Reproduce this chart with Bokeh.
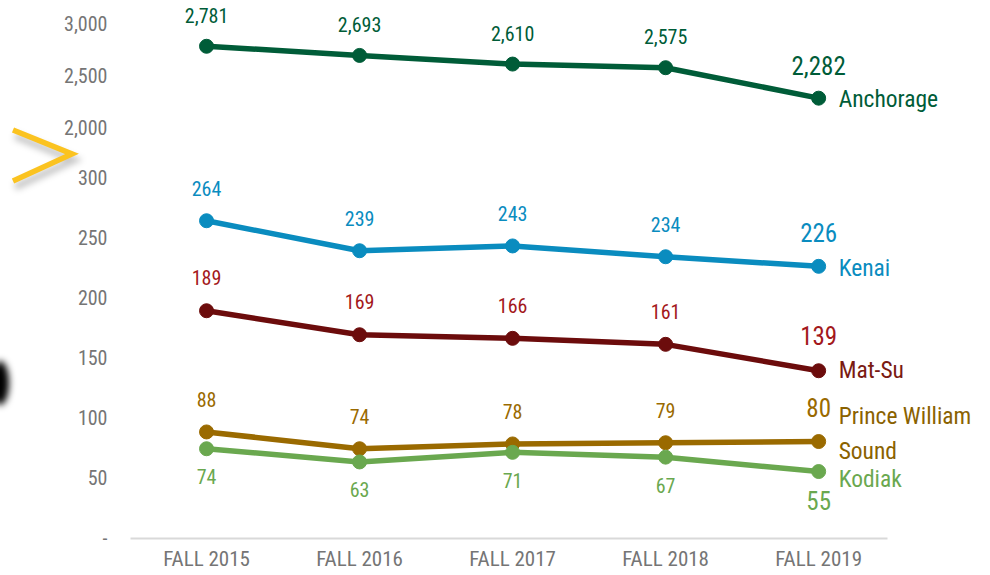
from bokeh.plotting import figure
from bokeh.models import Range1d, FixedTicker, NumeralTickFormatter, ColumnDataSource, Div
from bokeh.layouts import column
from bokeh.embed import file_html
from bokeh.resources import INLINE
from bokeh.core.properties import value

# ---------------- data ----------------
terms = ["FALL 2015", "FALL 2016", "FALL 2017", "FALL 2018", "FALL 2019"]
anchorage = [2781, 2693, 2610, 2575, 2282]
kenai = [264, 239, 243, 234, 226]
matsu = [189, 169, 166, 161, 139]
pws = [88, 74, 78, 79, 80]
kodiak = [74, 63, 71, 67, 55]
series_names = ["Anchorage", "Kenai", "Mat-Su", "Prince William\nSound", "Kodiak"]
top_ticks = [2000, 2500, 3000]
bottom_ticks = [0, 50, 100, 150, 200, 250, 300]

# ---------------- styles ----------------
FONT = "Roboto Condensed, Liberation Sans Narrow, DejaVu Sans Condensed, Roboto"
GRAY = "#757575"
styles = {
    "Anchorage": dict(line="#005c38", lab="#005c38", name="#005c38", off=-31, name_off=1),
    "Kenai": dict(line="#0a8cbf", lab="#0a8cbf", name="#0a8cbf", off=-32, name_off=2),
    "Mat-Su": dict(line="#6c0c0c", lab="#a3181c", name="#7a1a12", off=-33, name_off=-1),
    "Prince William\nSound": dict(line="#9a6a00", lab="#9a6a00", name="#8a6200", off=-32, name_off=-8),
    "Kodiak": dict(line="#6aa84f", lab="#6aa84f", name="#6aa84f", off=28, name_off=7),
}

W = 990
TOP_H = 154
BOT_H = 575 - TOP_H
LEFT = 128
RIGHT = 2
x_range = Range1d(-0.51, 5.11)


def base_fig(h, y_range, bottom_border):
    p = figure(width=W, height=h, x_range=x_range, y_range=y_range,
               output_backend="svg", toolbar_location=None,
               min_border_left=LEFT, min_border_right=RIGHT,
               min_border_top=0, min_border_bottom=bottom_border)
    p.outline_line_color = None
    p.xgrid.visible = False
    p.ygrid.visible = False
    p.background_fill_color = None
    p.border_fill_color = None
    ya = p.yaxis[0]
    ya.axis_line_color = None
    ya.major_tick_line_color = None
    ya.minor_tick_line_color = None
    ya.major_tick_out = 0
    ya.major_tick_in = 0
    ya.major_label_standoff = 21
    ya.major_label_text_font = FONT
    ya.major_label_text_font_size = "20px"
    ya.major_label_text_color = GRAY
    ya.formatter = NumeralTickFormatter(format="0,0")
    return p


top = base_fig(TOP_H, Range1d(1740.4, 3221.2), 0)
top.xaxis.visible = False
top.yaxis[0].ticker = FixedTicker(ticks=top_ticks)

bot = base_fig(BOT_H, Range1d(-0.8, 319.2), 37)
bot.yaxis[0].ticker = FixedTicker(ticks=bottom_ticks)
bot.yaxis[0].major_label_overrides = {0: "-"}
xa = bot.xaxis[0]
xa.ticker = FixedTicker(ticks=list(range(len(terms))))
xa.major_label_overrides = {i: t for i, t in enumerate(terms)}
xa.bounds = (-0.5, 4.45)
xa.axis_line_color = "#d9d9d9"
xa.axis_line_width = 2
xa.major_tick_line_color = None
xa.minor_tick_line_color = None
xa.major_tick_out = 0
xa.major_tick_in = 0
xa.major_label_standoff = 8
xa.major_label_text_font = FONT
xa.major_label_text_font_size = "21px"
xa.major_label_text_color = GRAY


def draw(p, vals, name):
    st = styles[name]
    xs = list(range(len(vals)))
    n = len(vals)
    p.line(xs, vals, line_width=5.5, line_color=st["line"])
    p.scatter(xs, vals, size=14, fill_color=st["line"], line_color=st["line"])
    src = ColumnDataSource(dict(x=xs[:n - 1], y=vals[:n - 1],
                                t=[f"{v:,}" for v in vals[:n - 1]]))
    p.text("x", "y", text="t", source=src, text_align="center", text_baseline="middle",
           y_offset=st["off"], text_color=st["lab"], text_font=value(FONT),
           text_font_size="20px")
    last = ColumnDataSource(dict(x=xs[n - 1:], y=vals[n - 1:], t=[f"{vals[-1]:,}"],
                                 nm=[name]))
    p.text("x", "y", text="t", source=last, text_align="center", text_baseline="middle",
           y_offset=st["off"] + (-2 if st["off"] < 0 else 1), text_color=st["lab"],
           text_font=value(FONT), text_font_size="25px")
    p.text("x", "y", text="nm", source=last, text_align="left", text_baseline="middle",
           x_offset=20, y_offset=st["name_off"], text_color=st["name"],
           text_font=value(FONT), text_font_size="23.5px", text_line_height=1.23)


draw(top, anchorage, series_names[0])
draw(bot, kenai, series_names[1])
draw(bot, matsu, series_names[2])
draw(bot, pws, series_names[3])
draw(bot, kodiak, series_names[4])

# ---------------- decoration: axis-break marker ">" and dark blob at the left edge ----
DEC_TOP = 128          # page y where the decoration strip begins
DEC_H = 290
DEC_W = 80
deco_svg = (
    f'<svg xmlns="http://www.w3.org/2000/svg" width="{DEC_W}" height="{DEC_H}" '
    'style="display:block;overflow:visible">'
    '<defs><filter id="blur1" x="-60%" y="-60%" width="220%" height="220%">'
    '<feGaussianBlur stdDeviation="3"/></filter>'
    '<filter id="blur2" x="-80%" y="-80%" width="260%" height="260%">'
    '<feGaussianBlur stdDeviation="3.5"/></filter></defs>'
    '<polyline points="15,8 74,32 15,59" fill="none" stroke="#000" stroke-opacity="0.22" '
    'stroke-width="7" filter="url(#blur1)"/>'
    '<polyline points="13,2 72,26 13,53" fill="none" stroke="#fbc320" stroke-width="5.5" '
    'stroke-linejoin="miter"/>'
    '<ellipse cx="0" cy="255" rx="9" ry="22" fill="#000" filter="url(#blur2)"/>'
    '</svg>'
)
deco = Div(text=deco_svg, width=DEC_W, height=DEC_H,
           margin=(DEC_TOP - TOP_H, 0, -(DEC_H - (TOP_H - DEC_TOP)), 0))

layout = column(top, deco, bot, spacing=0)
open("out.html", "w").write(file_html(layout, INLINE))
